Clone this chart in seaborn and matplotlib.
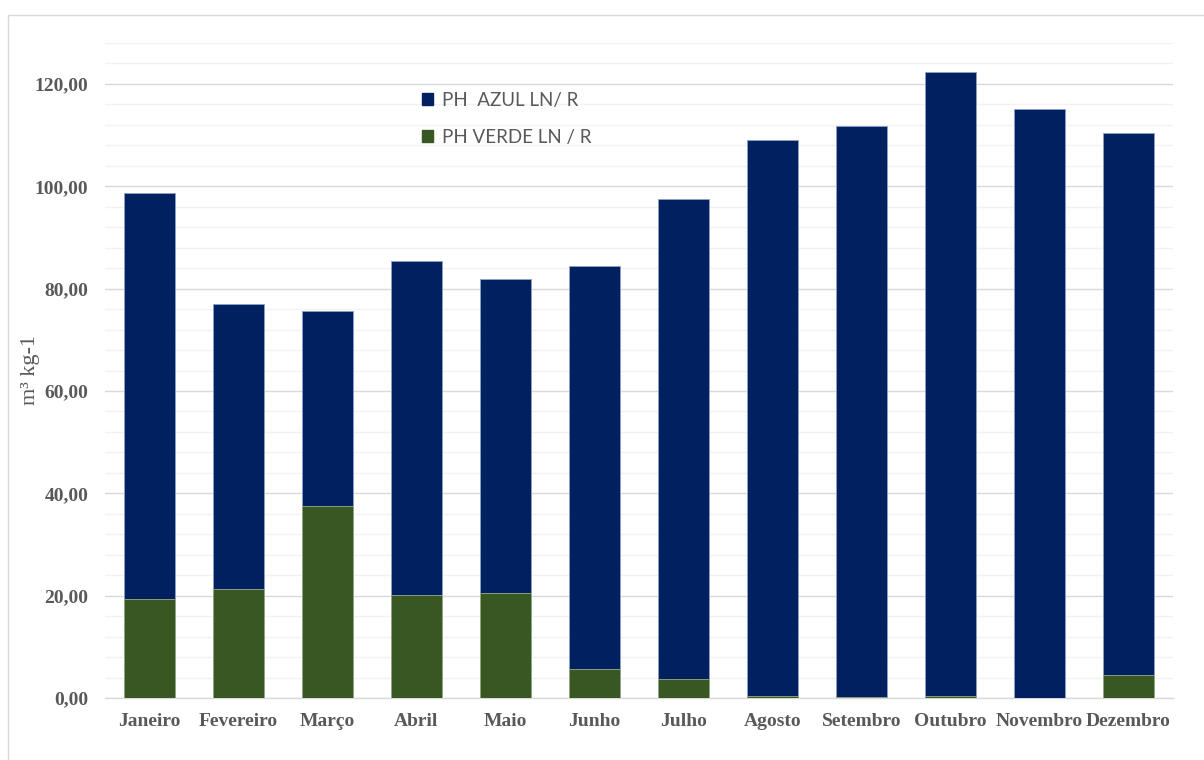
import numpy as np
import pandas as pd
import matplotlib
matplotlib.use("Agg")
import matplotlib.pyplot as plt
from matplotlib.ticker import MultipleLocator, FuncFormatter
from matplotlib.patches import Patch
from matplotlib.lines import Line2D
import seaborn as sns

meses = ["Janeiro", "Fevereiro", "Março", "Abril", "Maio", "Junho", "Julho",
         "Agosto", "Setembro", "Outubro", "Novembro", "Dezembro"]
ph_verde = [19.4, 21.3, 37.5, 20.1, 20.5, 5.7, 3.7, 0.4, 0.2, 0.4, 0.0, 4.5]
ph_azul = [79.3, 55.7, 38.1, 65.3, 61.4, 78.7, 93.8, 108.6, 111.6, 121.9, 115.1, 105.9]
label_azul = "PH  AZUL LN/ R"
label_verde = "PH VERDE LN / R"

c_azul = "#002060"
c_verde = "#385723"
gray = "#595959"

df = pd.DataFrame({"mes": meses, "verde": ph_verde, "azul": ph_azul})
df["total"] = df["verde"] + df["azul"]

sns.set_theme(style="white")
fig = plt.figure(figsize=(12.04, 7.6), dpi=100)
ax = fig.add_axes([105/1204, 1-698/760, (1173-105)/1204, (698-43)/760])

sns.barplot(data=df, x="mes", y="total", color=c_azul, saturation=1, width=0.575,
            edgecolor="#8EA0C8", linewidth=0.6, ax=ax, zorder=3)
sns.barplot(data=df, x="mes", y="verde", color=c_verde, saturation=1, width=0.575,
            edgecolor="#9AAE8A", linewidth=0.6, ax=ax, zorder=3)

ax.set_xlim(-0.5, 11.5)
ax.set_ylim(0, 128)
ax.yaxis.set_major_locator(MultipleLocator(20))
ax.yaxis.set_minor_locator(MultipleLocator(4))
ax.yaxis.set_major_formatter(FuncFormatter(lambda v, p: f"{v:.2f}".replace(".", ",")))
ax.grid(axis="y", which="major", color="#D9D9D9", linewidth=1.0, zorder=0)
ax.grid(axis="y", which="minor", color="#F2F2F2", linewidth=1.0, zorder=0)
ax.set_axisbelow(True)
for s in ["top", "right", "left"]:
    ax.spines[s].set_visible(False)
ax.spines["bottom"].set_color("#D9D9D9")
ax.spines["bottom"].set_linewidth(1.0)
ax.tick_params(axis="both", which="both", length=0)
ax.tick_params(axis="x", pad=11)
ax.tick_params(axis="y", pad=12)

for lab in ax.get_xticklabels() + ax.get_yticklabels():
    lab.set_fontfamily("Liberation Serif")
    lab.set_fontweight("bold")
    lab.set_fontsize(14)
    lab.set_color(gray)

ax.set_xlabel("")
ax.set_ylabel("")
fig.text(30/1204, 1-370/760, "m³ kg-1", rotation=90, ha="center", va="center",
         fontfamily="Liberation Serif", fontsize=16, color=gray)

handles = [Patch(facecolor=c_azul, edgecolor=c_azul), Patch(facecolor=c_verde, edgecolor=c_verde)]
leg = ax.legend(handles, [label_azul, label_verde], loc="upper left",
                bbox_to_anchor=((405-105)/1068, (698-75)/655), frameon=False,
                prop={"family": "Lato", "size": 13.5}, labelcolor=gray,
                handlelength=0.6, handleheight=0.6, handletextpad=0.45, labelspacing=1.05)

# chart border
fig.add_artist(Line2D([8/1204, 8/1204], [0, 1-15/760], transform=fig.transFigure, color="#D9D9D9", lw=1))
fig.add_artist(Line2D([8/1204, 1], [1-15/760, 1-15/760], transform=fig.transFigure, color="#D9D9D9", lw=1))

fig.savefig("out.png", dpi=100, facecolor="white")
